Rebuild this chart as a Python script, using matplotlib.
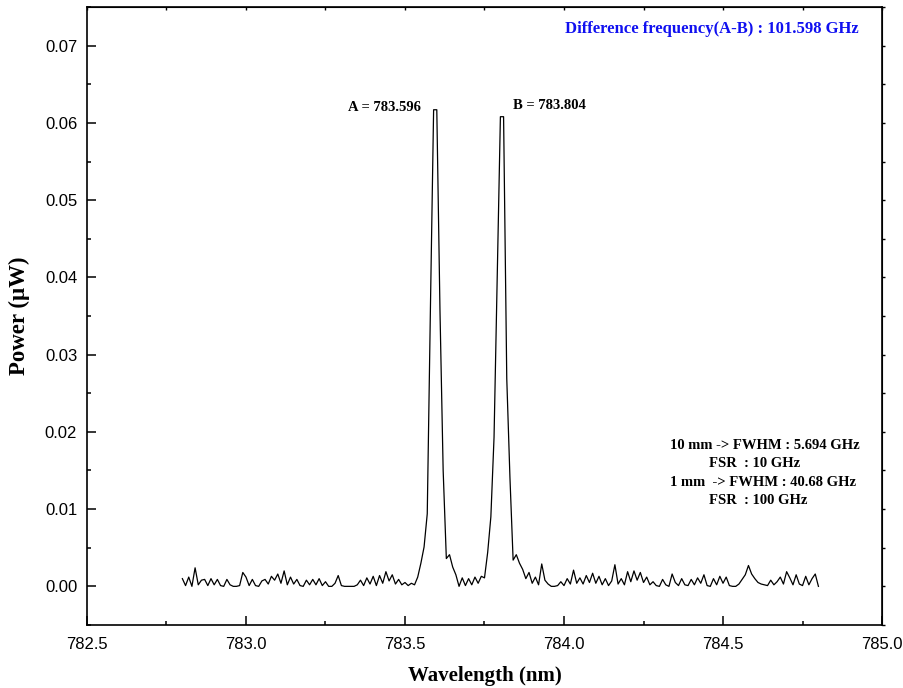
import numpy as np
import matplotlib
matplotlib.use("Agg")
import matplotlib.pyplot as plt
from matplotlib.ticker import MultipleLocator

# spectrum sampled every 0.01 nm from 782.80 to 784.80
wavelength = np.round(np.arange(782.80, 784.805, 0.01), 2)

noise_left = [0.0010, 0.0001, 0.0012, 0.0000, 0.0024, 0.0002, 0.0008, 0.0009, 0.0001, 0.0010,
              0.0002, 0.0009, 0.0001, 0.0000, 0.0009, 0.0002, 0.0000, 0.0000, 0.0001, 0.0018,
              0.0012, 0.0001, 0.0009, 0.0001, 0.0000, 0.0007, 0.0009, 0.0003, 0.0013, 0.0008,
              0.0016, 0.0004, 0.0020, 0.0002, 0.0012, 0.0003, 0.0009, 0.0001, 0.0000, 0.0008,
              0.0002, 0.0009, 0.0002, 0.0010, 0.0001, 0.0006, 0.0000, 0.0000, 0.0004, 0.0014,
              0.0001, 0.0000, 0.0000, 0.0000, 0.0000, 0.0002, 0.0008, 0.0001, 0.0011, 0.0003,
              0.0013, 0.0001, 0.0014, 0.0004, 0.0019, 0.0007, 0.0015, 0.0003, 0.0009, 0.0002,
              0.0005, 0.0001, 0.0004, 0.0002, 0.0012]
peak_a = [0.0030, 0.0051, 0.0094, 0.0361, 0.0617, 0.0617, 0.0357, 0.0150, 0.0036, 0.0041,
          0.0025, 0.0015, 0.0000, 0.0011, 0.0001, 0.0010, 0.0002, 0.0012, 0.0004, 0.0013,
          0.0011]
peak_b = [0.0044, 0.0090, 0.0193, 0.0402, 0.0608, 0.0608, 0.0269, 0.0141, 0.0034]
noise_right = [0.0041, 0.0030, 0.0022, 0.0010, 0.0018, 0.0004, 0.0012, 0.0002, 0.0029, 0.0008,
               0.0003, 0.0000, 0.0000, 0.0001, 0.0006, 0.0001, 0.0010, 0.0003, 0.0021, 0.0004,
               0.0011, 0.0003, 0.0014, 0.0005, 0.0017, 0.0004, 0.0013, 0.0002, 0.0010, 0.0001,
               0.0007, 0.0028, 0.0003, 0.0010, 0.0002, 0.0019, 0.0006, 0.0020, 0.0008, 0.0018,
               0.0005, 0.0012, 0.0002, 0.0006, 0.0001, 0.0000, 0.0009, 0.0002, 0.0000, 0.0016,
               0.0005, 0.0001, 0.0010, 0.0002, 0.0001, 0.0009, 0.0002, 0.0011, 0.0004, 0.0015,
               0.0001, 0.0000, 0.0010, 0.0002, 0.0013, 0.0004, 0.0012, 0.0001, 0.0000, 0.0000,
               0.0003, 0.0009, 0.0015, 0.0027, 0.0016, 0.0010, 0.0005, 0.0003, 0.0002, 0.0001,
               0.0008, 0.0002, 0.0006, 0.0012, 0.0003, 0.0019, 0.0011, 0.0002, 0.0015, 0.0003,
               0.0001, 0.0013, 0.0002, 0.0010, 0.0016, 0.0000]
power = np.array(noise_left + peak_a + peak_b + noise_right)

serif = ["Liberation Serif", "DejaVu Serif"]
plt.rcParams["font.family"] = ["Liberation Sans", "DejaVu Sans"]

fig = plt.figure(figsize=(9.04, 6.88), dpi=100)
ax = fig.add_axes([0.0962, 0.0916, 0.8795, 0.8982])
ax.plot(wavelength, power, color="black", lw=0.9)

ax.set_xlim(782.5, 785.0)
ax.set_ylim(-0.005, 0.075)
ax.xaxis.set_major_locator(MultipleLocator(0.5))
ax.xaxis.set_minor_locator(MultipleLocator(0.25))
ax.yaxis.set_major_locator(MultipleLocator(0.01))
ax.yaxis.set_minor_locator(MultipleLocator(0.005))
ax.xaxis.set_major_formatter(plt.FormatStrFormatter("%.1f"))
ax.yaxis.set_major_formatter(plt.FormatStrFormatter("%.2f"))

ax.tick_params(which="both", direction="in", width=1.1, labelsize=12)
ax.tick_params(which="major", length=6.5)
ax.tick_params(which="minor", length=3.2)
ax.tick_params(axis="x", pad=9)
ax.tick_params(axis="y", pad=7)
for s in ax.spines.values():
    s.set_linewidth(1.2)

# short marks on the top and right frame
top = ax.secondary_xaxis("top")
top.xaxis.set_major_locator(MultipleLocator(0.5))
top.xaxis.set_minor_locator(MultipleLocator(0.25))
top.tick_params(which="both", direction="in", length=2.5, width=1.0, labeltop=False)
right = ax.secondary_yaxis("right")
right.yaxis.set_major_locator(MultipleLocator(0.01))
right.yaxis.set_minor_locator(MultipleLocator(0.005))
right.tick_params(which="both", direction="out", length=2.5, width=1.0, labelright=False)

ax.set_xlabel("Wavelength (nm)", family=serif, fontweight="bold", fontsize=15, labelpad=10)
ax.set_ylabel("Power (\u03bcW)", family=serif, fontweight="bold", fontsize=16.5, labelpad=11)

ax.text(0.786, 0.964, "Difference frequency(A-B) : 101.598 GHz", transform=ax.transAxes,
        ha="center", va="center", color="#1010f0", family=serif, fontweight="bold", fontsize=12)
ax.text(0.328, 0.837, "A = 783.596", transform=ax.transAxes, ha="left", va="center",
        family=serif, fontweight="bold", fontsize=10.5)
ax.text(0.536, 0.841, "B = 783.804", transform=ax.transAxes, ha="left", va="center",
        family=serif, fontweight="bold", fontsize=10.5)

notes = ["10 mm -> FWHM : 5.694 GHz", "FSR  : 10 GHz", "1 mm  -> FWHM : 40.68 GHz", "FSR  : 100 GHz"]
note_x = [0.733, 0.782, 0.733, 0.782]
note_y = [0.291, 0.262, 0.231, 0.201]
for t, nx, ny in zip(notes, note_x, note_y):
    ax.text(nx, ny, t, transform=ax.transAxes, ha="left", va="center",
            family=serif, fontweight="bold", fontsize=10.5)

fig.savefig("out.png", dpi=100)
